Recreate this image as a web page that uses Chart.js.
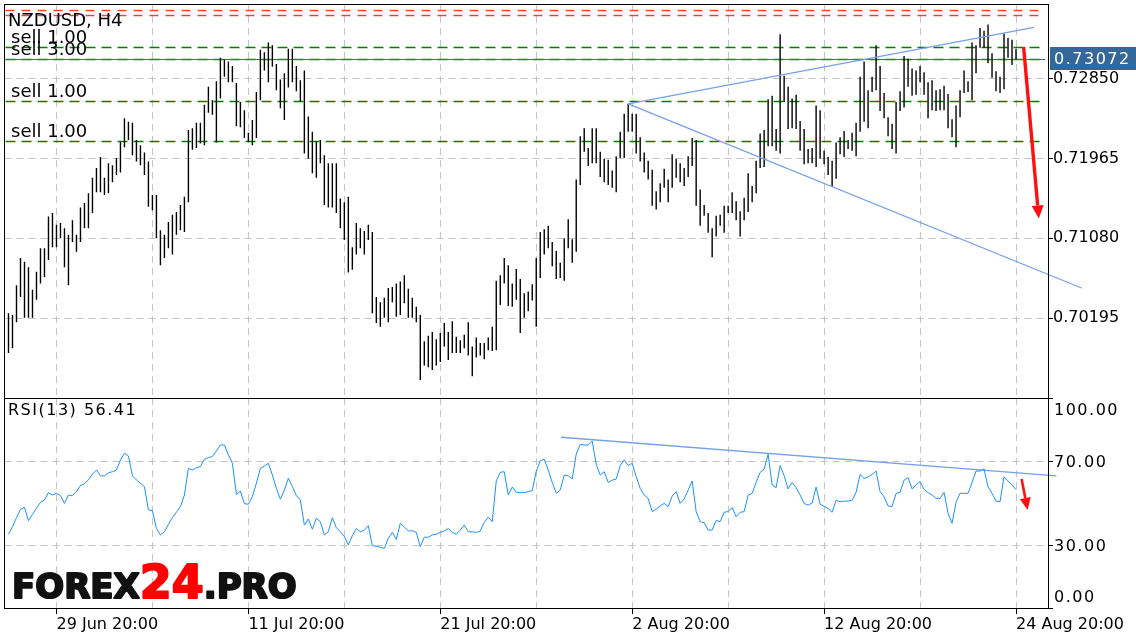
<!DOCTYPE html>
<html>
<head>
<meta charset="utf-8">
<script src="https://cdn.jsdelivr.net/npm/chart.js@4.4.0/dist/chart.umd.min.js"></script>
<style>
  html, body { margin: 0; padding: 0; background: #fff; }
  #wrap { position: relative; width: 1136px; height: 640px; overflow: hidden; }
  #price { position: absolute; left: 0; top: 0; }
  #rsi { position: absolute; left: 0; top: 398px; }
</style>
</head>
<body>
<div id="wrap">
  <canvas id="price" width="1136" height="400" style="width:1136px;height:400px"></canvas>
  <canvas id="rsi" width="1136" height="242" style="width:1136px;height:242px"></canvas>
</div>
<script>
// NZDUSD H4, one entry per bar (bar index = position on the x axis)
const highs = [
  0.7025,0.7023,0.7056,0.7086,0.7082,0.7076,0.7051,0.7071,0.7097,0.7097,
  0.7132,0.7136,0.7123,0.7125,0.7119,0.7112,0.7128,0.7112,0.7142,0.7147,
  0.7158,0.7175,0.7186,0.7198,0.7175,0.7191,0.7189,0.7197,0.7215,0.7241,
  0.7237,0.7236,0.7217,0.7211,0.7203,0.7193,0.7156,0.7156,0.7117,0.7112,
  0.7126,0.7134,0.7137,0.7145,0.7154,0.7228,0.7230,0.7236,0.7236,0.7256,
  0.7276,0.7261,0.7282,0.7308,0.7306,0.7304,0.7299,0.7280,0.7259,0.7250,
  0.7225,0.7239,0.7270,0.7317,0.7314,0.7325,0.7322,0.7301,0.7284,0.7291,
  0.7318,0.7318,0.7299,0.7283,0.7294,0.7243,0.7226,0.7215,0.7217,0.7200,
  0.7191,0.7191,0.7191,0.7152,0.7148,0.7154,0.7098,0.7125,0.7119,0.7116,
  0.7123,0.7115,0.7043,0.7037,0.7042,0.7053,0.7054,0.7058,0.7060,0.7067,
  0.7052,0.7042,0.7032,0.7023,0.6994,0.7000,0.7004,0.6996,0.7003,0.7014,
  0.7004,0.7016,0.6999,0.6995,0.7001,0.7015,0.6988,0.6998,0.6992,0.6992,
  0.6998,0.7010,0.7061,0.7067,0.7086,0.7078,0.7058,0.7074,0.7063,0.7047,
  0.7049,0.7057,0.7086,0.7115,0.7118,0.7122,0.7104,0.7094,0.7081,0.7108,
  0.7129,0.7107,0.7173,0.7221,0.7230,0.7208,0.7230,0.7230,0.7204,0.7196,
  0.7195,0.7183,0.7199,0.7226,0.7246,0.7257,0.7246,0.7246,0.7220,0.7203,
  0.7194,0.7184,0.7160,0.7169,0.7185,0.7173,0.7201,0.7196,0.7191,0.7186,
  0.7199,0.7219,0.7217,0.7162,0.7145,0.7136,0.7119,0.7133,0.7134,0.7144,
  0.7144,0.7159,0.7149,0.7138,0.7153,0.7180,0.7166,0.7194,0.7224,0.7228,
  0.7262,0.7266,0.7229,0.7334,0.7288,0.7276,0.7263,0.7267,0.7238,0.7229,
  0.7207,0.7208,0.7255,0.7250,0.7205,0.7198,0.7194,0.7214,0.7220,0.7227,
  0.7217,0.7225,0.7236,0.7287,0.7304,0.7272,0.7287,0.7322,0.7299,0.7269,
  0.7242,0.7235,0.7259,0.7271,0.7310,0.7307,0.7296,0.7294,0.7299,0.7292,
  0.7281,0.7283,0.7272,0.7273,0.7277,0.7268,0.7240,0.7255,0.7272,0.7294,
  0.7282,0.7325,0.7322,0.7341,0.7338,0.7345,0.7313,0.7293,0.7287,0.7335,
  0.7330,0.7328,0.7318
]
const lows = [
  0.6981,0.6986,0.7015,0.7043,0.7020,0.7020,0.7020,0.7040,0.7058,0.7065,
  0.7084,0.7098,0.7098,0.7108,0.7076,0.7056,0.7104,0.7093,0.7104,0.7119,
  0.7119,0.7136,0.7159,0.7159,0.7156,0.7158,0.7170,0.7178,0.7181,0.7209,
  0.7217,0.7200,0.7193,0.7189,0.7178,0.7143,0.7139,0.7108,0.7078,0.7086,
  0.7097,0.7090,0.7112,0.7117,0.7115,0.7148,0.7206,0.7208,0.7213,0.7211,
  0.7247,0.7245,0.7214,0.7263,0.7287,0.7281,0.7281,0.7232,0.7231,0.7219,
  0.7215,0.7211,0.7219,0.7261,0.7294,0.7281,0.7298,0.7272,0.7252,0.7239,
  0.7275,0.7281,0.7271,0.7259,0.7202,0.7196,0.7180,0.7175,0.7191,0.7145,
  0.7142,0.7142,0.7136,0.7119,0.7106,0.7070,0.7073,0.7090,0.7097,0.7090,
  0.7106,0.7025,0.7014,0.7010,0.7020,0.7015,0.7037,0.7021,0.7023,0.7036,
  0.7020,0.7020,0.7015,0.6951,0.6967,0.6965,0.6962,0.6967,0.6971,0.6988,
  0.6973,0.6981,0.6981,0.6981,0.6986,0.6978,0.6955,0.6976,0.6978,0.6974,
  0.6984,0.6983,0.6984,0.7034,0.7058,0.7033,0.7032,0.7040,0.7003,0.7020,
  0.7027,0.7039,0.7010,0.7064,0.7090,0.7097,0.7077,0.7063,0.7064,0.7061,
  0.7097,0.7081,0.7093,0.7167,0.7204,0.7188,0.7191,0.7191,0.7176,0.7170,
  0.7167,0.7164,0.7159,0.7197,0.7197,0.7226,0.7226,0.7202,0.7193,0.7181,
  0.7173,0.7144,0.7140,0.7148,0.7164,0.7148,0.7164,0.7175,0.7170,0.7166,
  0.7176,0.7188,0.7144,0.7122,0.7133,0.7114,0.7087,0.7110,0.7122,0.7114,
  0.7136,0.7136,0.7128,0.7110,0.7128,0.7137,0.7148,0.7158,0.7186,0.7187,
  0.7210,0.7210,0.7205,0.7202,0.7259,0.7229,0.7230,0.7229,0.7205,0.7190,
  0.7191,0.7191,0.7187,0.7196,0.7190,0.7178,0.7165,0.7174,0.7201,0.7198,
  0.7207,0.7205,0.7199,0.7226,0.7237,0.7230,0.7270,0.7272,0.7249,0.7241,
  0.7221,0.7207,0.7202,0.7249,0.7253,0.7276,0.7266,0.7267,0.7281,0.7267,
  0.7241,0.7250,0.7249,0.7250,0.7250,0.7230,0.7220,0.7209,0.7242,0.7269,
  0.7270,0.7261,0.7291,0.7319,0.7319,0.7302,0.7286,0.7271,0.7269,0.7273,
  0.7308,0.7300,0.7306
]
const rsi = [
  35.1,38.7,43.0,47.0,47.9,41.6,44.6,47.5,50.3,51.4,
  54.9,53.8,54.6,53.5,49.8,53.8,53.5,55.4,58.3,59.2,
  61.0,63.8,65.7,62.9,62.9,64.4,64.9,65.7,70.5,73.7,
  72.4,62.9,61.0,59.4,57.8,46.7,46.3,37.9,34.8,36.3,
  39.8,43.0,45.6,48.3,53.8,66.5,65.7,66.8,67.3,70.8,
  71.6,72.1,74.8,77.6,77.6,72.9,68.9,54.1,55.7,49.7,
  49.4,53.0,59.4,66.5,67.6,68.9,63.3,57.0,51.8,56.2,
  61.8,57.8,53.5,51.4,39.5,42.4,37.5,42.7,41.1,34.8,
  36.3,43.0,38.3,36.3,34.0,30.0,34.4,37.9,36.3,37.0,
  39.2,29.7,29.4,28.9,28.4,33.2,36.0,32.7,40.3,38.6,
  36.7,36.8,36.0,29.2,33.7,33.7,34.8,35.1,36.0,36.7,
  37.9,36.0,35.2,37.1,39.5,36.3,36.3,36.0,36.7,40.8,
  43.3,41.1,60.5,64.6,64.9,53.8,57.6,55.1,54.9,54.9,
  55.4,55.9,65.2,70.0,70.9,65.7,59.8,54.6,56.2,63.3,
  63.0,61.4,73.3,77.9,77.6,77.6,79.5,68.4,63.3,64.9,
  59.8,60.9,61.4,67.8,70.5,67.8,68.9,62.5,57.0,53.8,
  52.2,45.9,47.1,48.6,49.8,48.3,53.3,55.4,49.8,51.9,
  56.2,60.5,45.9,41.1,40.6,37.1,37.1,41.7,41.1,45.6,
  45.9,47.8,43.5,45.6,45.9,53.8,54.6,59.8,64.6,66.2,
  73.2,58.6,57.3,67.8,63.0,56.7,59.8,57.3,53.8,49.8,
  49.0,50.0,57.6,49.4,48.4,47.4,45.6,51.3,50.6,50.9,
  50.9,51.3,55.1,63.6,61.7,62.4,63.6,65.2,55.4,52.9,
  48.6,48.3,54.6,55.1,60.9,62.1,56.7,58.6,60.2,56.5,
  54.9,53.8,52.2,52.2,55.1,45.1,40.3,50.3,54.6,54.6,
  54.6,59.8,65.2,65.2,66.2,57.8,54.6,50.9,50.6,62.5,
  60.5,58.6,56.41
]

const priceTicks = [0.70195, 0.71080, 0.71965, 0.72850]
const rsiTicks = [0, 30, 70, 100]
const tickBars = [12, 36, 60, 84, 108, 132, 156, 180, 204, 228, 252]
const tickLabels = ['29 Jun 20:00', '', '11 Jul 20:00', '', '21 Jul 20:00', '', '2 Aug 20:00', '', '12 Aug 20:00', '', '24 Aug 20:00']

const stopLevels = [0.7361, 0.7355]
const orderLevels = [0.7320, 0.73062, 0.7260, 0.7216]
const orderLabels = ['sell 1.00', 'sell 3.00', 'sell 1.00', 'sell 1.00']
const bidPrice = 0.73072
const lastRsi = 56.41

// trend lines and arrows as [bar, value] pairs
const upperTrend = [[155, 0.7257], [256.5, 0.73417]]
const lowerTrend = [[155, 0.7257], [268.4, 0.70529]]
const rsiTrend = [[138.2, 81.3], [262.1, 62.9]]
const priceArrow = [[253.9, 0.7320], [257.7, 0.7130]]
const rsiArrow = [[253.4, 61.4], [254.9, 46.7]]

const FONT = 'DejaVu Sans'
const GRID = '#c4c4c4'
const TREND = '#78a0e6'
Chart.defaults.font.family = FONT

let toPoints = pairs => pairs.map(p => ({ x: p[0], y: p[1] }))

let drawArrow = (ctx, x1, y1, x2, y2, w, headLen, headW) => {
  const a = Math.atan2(y2 - y1, x2 - x1)
  const bx = x2 - headLen * Math.cos(a), by = y2 - headLen * Math.sin(a)
  ctx.save()
  ctx.strokeStyle = '#ff1010'
  ctx.fillStyle = '#ff1010'
  ctx.lineWidth = w
  ctx.beginPath(); ctx.moveTo(x1, y1); ctx.lineTo(bx, by); ctx.stroke()
  ctx.beginPath()
  ctx.moveTo(x2, y2)
  ctx.lineTo(bx + headW / 2 * Math.sin(a), by - headW / 2 * Math.cos(a))
  ctx.lineTo(bx - headW / 2 * Math.sin(a), by + headW / 2 * Math.cos(a))
  ctx.closePath(); ctx.fill()
  ctx.restore()
}

let frame = (ctx, a) => {
  ctx.save()
  ctx.strokeStyle = '#000'
  ctx.lineWidth = 1
  ctx.setLineDash([])
  const l = Math.floor(a.left) + 0.5, t = Math.floor(a.top) + 0.5
  ctx.strokeRect(l, t, Math.round(a.right) + 0.5 - l, Math.round(a.bottom) + 0.5 - t)
  ctx.restore()
}

let xScale = (showLabels, height) => ({
  type: 'linear', min: -1, max: 260, offset: false,
  afterBuildTicks: s => { s.ticks = tickBars.map(v => ({ value: v })) },
  afterFit: s => { s.height = height; s.paddingLeft = 0; s.paddingRight = 0 },
  ticks: {
    display: showLabels, autoSkip: false, maxRotation: 0, align: 'start', padding: 1,
    color: '#000', font: { family: FONT, size: 16 },
    callback: (v, i) => tickLabels[i]
  },
  grid: {
    offset: false, color: GRID, drawTicks: showLabels, tickLength: 6,
    tickColor: c => tickLabels[c.index] ? '#000' : 'rgba(0,0,0,0)'
  },
  border: { display: false, dash: [7, 5] }
})

const pricePanel = {
  id: 'pricePanel',
  beforeDatasetsDraw(chart) {
    const { ctx, chartArea: a, scales: { y } } = chart
    ctx.save()
    ctx.beginPath(); ctx.rect(a.left, a.top, a.right - a.left, a.bottom - a.top); ctx.clip()
    let hline = (v, color, dash, w) => {
      const py = Math.round(y.getPixelForValue(v)) + 0.5
      ctx.strokeStyle = color; ctx.lineWidth = w; ctx.setLineDash(dash)
      ctx.beginPath(); ctx.moveTo(a.left + 1, py); ctx.lineTo(a.right - 3, py); ctx.stroke()
    }
    stopLevels.forEach(v => hline(v, '#ee4b14', [9, 7], 1.3))
    orderLevels.forEach(v => hline(v, '#008000', [10, 6], 1.3))
    hline(bidPrice, '#3a6a9c', [], 1)
    ctx.restore()
  },
  afterDraw(chart) {
    const { ctx, chartArea: a, scales: { x, y } } = chart
    frame(ctx, a)
    ctx.save()
    ctx.letterSpacing = '0px'
    ctx.fillStyle = '#000'
    ctx.textBaseline = 'alphabetic'
    ctx.font = '18px "' + FONT + '"'
    ctx.fillText('NZDUSD, H4', 8, 26)
    orderLevels.forEach((v, i) => {
      ctx.fillText(orderLabels[i], 11, y.getPixelForValue(v) - 4)
    })
    // bid price box on the axis
    const by = y.getPixelForValue(bidPrice)
    ctx.fillStyle = '#35689a'
    ctx.fillRect(a.right + 2, by - 11.5, chart.width - a.right - 2, 23)
    ctx.fillStyle = '#fff'
    ctx.letterSpacing = '1.5px'
    ctx.font = '16px "' + FONT + '"'
    ctx.textBaseline = 'middle'
    ctx.fillText(bidPrice.toFixed(5), a.right + 6, by + 1)
    ctx.restore()
    drawArrow(ctx, x.getPixelForValue(priceArrow[0][0]), y.getPixelForValue(priceArrow[0][1]),
      x.getPixelForValue(priceArrow[1][0]), y.getPixelForValue(priceArrow[1][1]), 3.4, 13, 12)
  }
}

const rsiPanel = {
  id: 'rsiPanel',
  afterDraw(chart) {
    const { ctx, chartArea: a, scales: { x, y } } = chart
    frame(ctx, a)
    ctx.save()
    ctx.fillStyle = '#000'
    ctx.font = '16px "' + FONT + '"'
    ctx.letterSpacing = '1.5px'
    ctx.textBaseline = 'middle'
    ctx.fillText('RSI(13) ' + lastRsi.toFixed(2), 8, 13)
    rsiTicks.forEach(v => {
      const off = v === 100 ? 13 : v === 0 ? -10 : 2
      ctx.fillText(v.toFixed(2), a.right + 6, y.getPixelForValue(v) + off)
    })
    // site logo
    ctx.letterSpacing = '0px'
    ctx.textBaseline = 'alphabetic'
    ctx.lineJoin = 'round'
    ctx.lineWidth = 2
    let lx = 12
    const parts = [['FOREX', '#111', 34], ['24', '#ff0000', 46], ['.PRO', '#111', 34]]
    parts.forEach(p => {
      ctx.font = 'bold ' + p[2] + 'px "' + FONT + '"'
      ctx.fillStyle = p[1]
      ctx.strokeStyle = p[1]
      ctx.fillText(p[0], lx, 200)
      ctx.strokeText(p[0], lx, 200)
      lx += ctx.measureText(p[0]).width
    })
    ctx.restore()
    drawArrow(ctx, x.getPixelForValue(rsiArrow[0][0]), y.getPixelForValue(rsiArrow[0][1]),
      x.getPixelForValue(rsiArrow[1][0]), y.getPixelForValue(rsiArrow[1][1]), 2.6, 12, 11)
  }
}

const priceCanvas = document.getElementById('price')
const rsiCanvas = document.getElementById('rsi')
priceCanvas.getContext('2d').letterSpacing = '1.5px'
rsiCanvas.getContext('2d').letterSpacing = '1.5px'

new Chart(priceCanvas, {
  type: 'bar',
  data: {
    datasets: [
      {
        type: 'bar',
        data: highs.map((h, i) => ({ x: i, y: [lows[i], h] })),
        backgroundColor: '#000',
        barThickness: 1.4,
        inflateAmount: 0,
        borderWidth: 0,
        grouped: false,
        order: 2
      },
      { type: 'line', data: toPoints(upperTrend), borderColor: TREND, borderWidth: 1.3, pointRadius: 0, clip: false, order: 1 },
      { type: 'line', data: toPoints(lowerTrend), borderColor: TREND, borderWidth: 1.3, pointRadius: 0, clip: false, order: 1 }
    ]
  },
  options: {
    responsive: false,
    animation: false,
    layout: { padding: { left: 4.5, top: 4, right: 0, bottom: 2 } },
    plugins: { legend: { display: false }, tooltip: { enabled: false } },
    scales: {
      x: xScale(false, 0),
      y: {
        position: 'right', min: 0.6931, max: 0.73676,
        afterBuildTicks: s => { s.ticks = priceTicks.map(v => ({ value: v })) },
        afterFit: s => { s.width = 88; s.paddingTop = 0; s.paddingBottom = 0 },
        ticks: { color: '#000', padding: 0, font: { family: FONT, size: 16 }, callback: v => v.toFixed(5) },
        grid: { color: GRID, tickColor: '#000', tickLength: 5 },
        border: { display: false, dash: [7, 5] }
      }
    }
  },
  plugins: [pricePanel]
})

new Chart(rsiCanvas, {
  type: 'line',
  data: {
    datasets: [
      { data: rsi.map((v, i) => ({ x: i, y: v })), borderColor: '#1e90ff', borderWidth: 1, pointRadius: 0, tension: 0 },
      { data: toPoints(rsiTrend), borderColor: TREND, borderWidth: 1.3, pointRadius: 0, clip: false }
    ]
  },
  options: {
    responsive: false,
    animation: false,
    layout: { padding: { left: 4.5, top: 0, right: 0, bottom: 0 } },
    plugins: { legend: { display: false }, tooltip: { enabled: false } },
    scales: {
      x: xScale(true, 32),
      y: {
        position: 'right', min: 0, max: 100,
        afterBuildTicks: s => { s.ticks = rsiTicks.map(v => ({ value: v })) },
        afterFit: s => { s.width = 88; s.paddingTop = 0; s.paddingBottom = 0 },
        ticks: { display: false },
        grid: {
          color: c => (c.tick && c.tick.value > 0 && c.tick.value < 100) ? GRID : 'rgba(0,0,0,0)',
          tickColor: '#000', tickLength: 5
        },
        border: { display: false, dash: [7, 5] }
      }
    }
  },
  plugins: [rsiPanel]
})
</script>
</body>
</html>
